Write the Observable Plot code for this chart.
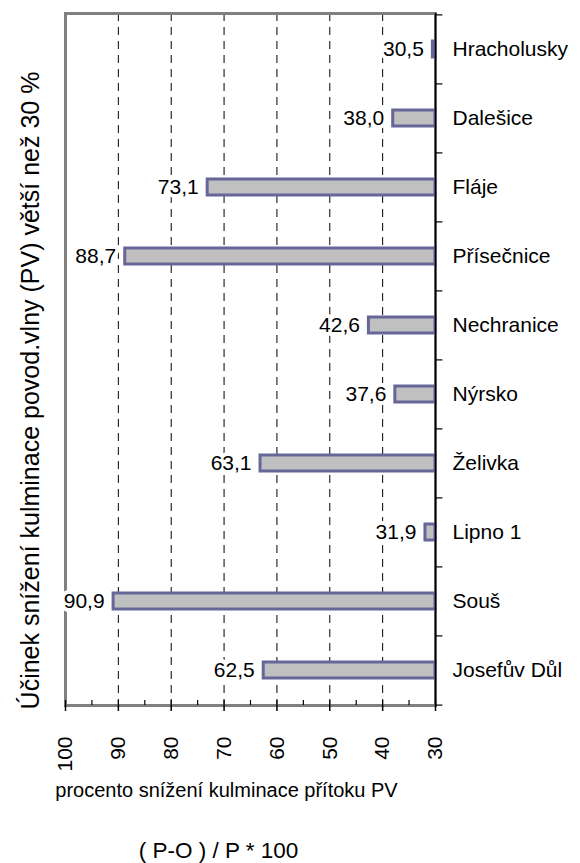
<!DOCTYPE html>
<html>
<head>
<meta charset="utf-8">
<script src="https://cdn.jsdelivr.net/npm/d3@7"></script>
<script src="https://cdn.jsdelivr.net/npm/@observablehq/plot@0.6"></script>
<style>
  html, body { margin: 0; padding: 0; background: #fff; }
  svg { display: block; }
</style>
</head>
<body>
<div id="chart"></div>
<script>
const categories = ["Hracholusky","Dalešice","Fláje","Přísečnice","Nechranice","Nýrsko","Želivka","Lipno 1","Souš","Josefův Důl"];
const values = [30.5, 38.0, 73.1, 88.7, 42.6, 37.6, 63.1, 31.9, 90.9, 62.5];
const majorTicks = [100, 90, 80, 70, 60, 50, 40, 30];
const minorTicks = [95, 85, 75, 65, 55, 45, 35];
const gridTicks = [90, 80, 70, 60, 50, 40];
const yTitle = "Účinek snížení kulminace povod.vlny (PV) větší než 30 %";
const xTitle = "procento snížení kulminace přítoku PV";
const caption = "( P-O ) / P * 100";

const data = categories.map((name, i) => ({name, value: values[i]}));

const W = 580, H = 863;
const mTop = 13, mBottom = 158, mLeft = 65, mRight = 145;
const step = (H - mTop - mBottom) / categories.length;
const font = "'Liberation Sans', Arial, sans-serif";

const chart = Plot.plot({
  width: W,
  height: H,
  marginTop: mTop,
  marginBottom: mBottom,
  marginLeft: mLeft,
  marginRight: mRight,
  style: {fontFamily: font, background: "white"},
  x: {domain: [100, 30], axis: null},
  y: {domain: categories, paddingInner: 0.77, paddingOuter: 0.385, axis: null},
  marks: [
    Plot.ruleX(gridTicks, {stroke: "black", strokeWidth: 1, strokeDasharray: "8,6"}),
    Plot.frame({stroke: "#808080", strokeWidth: 3}),
    Plot.barX(data, {x1: 30, x2: "value", y: "name", fill: "#c0c0c0", stroke: "#666699", strokeWidth: 3}),
    Plot.ruleX([30], {stroke: "black", strokeWidth: 1.5}),
    Plot.ruleY(categories, {y: d => d, x1: 30, x2: 28.6, dy: -step / 2, stroke: "black", strokeWidth: 1.2}),
    Plot.ruleY(categories.slice(-1), {y: d => d, x1: 30, x2: 28.6, dy: step / 2, stroke: "black", strokeWidth: 1.2}),
    Plot.ruleX(majorTicks.concat(minorTicks), {stroke: "black", strokeWidth: 1.2, insetTop: H - mTop - mBottom - 5}),
    Plot.axisX({
      anchor: "bottom",
      ticks: majorTicks,
      tickSize: 6,
      tickFormat: () => "",
      line: true,
      stroke: "black",
      strokeWidth: 1.5,
      label: null
    }),
    Plot.text(majorTicks, {
      x: d => d, text: d => String(d),
      frameAnchor: "bottom", rotate: -90, textAnchor: "end", lineAnchor: "middle",
      dy: 31, fontSize: 21, fill: "black"
    }),
    Plot.text(data, {
      x: "value", y: "name",
      text: d => d.value.toFixed(1).replace(".", ","),
      textAnchor: "end", dx: -9, fontSize: 21,
      fill: "black", stroke: "white", strokeWidth: 8, paintOrder: "stroke"
    }),
    Plot.text(categories, {y: d => d, frameAnchor: "right", textAnchor: "start", dx: 17, fontSize: 21, fill: "black"}),
    Plot.text([yTitle], {frameAnchor: "left", textAnchor: "middle", rotate: -90, dx: -35, dy: 31, fontSize: 25, fill: "black"}),
    Plot.text([xTitle], {frameAnchor: "bottom", dx: -24, dy: 91, fontSize: 20, fill: "black"}),
    Plot.text([caption], {frameAnchor: "bottom", dx: -32, dy: 152, fontSize: 22.5, fill: "black"})
  ]
});
document.getElementById("chart").appendChild(chart);
</script>
</body>
</html>
